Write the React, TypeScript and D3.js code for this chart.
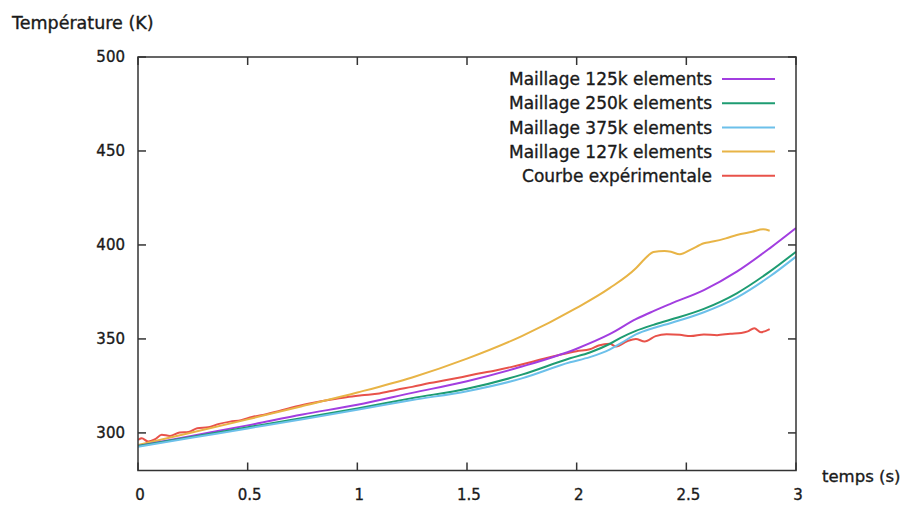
import React from "react";
import * as d3 from "d3";

const xTicks = [0, 0.5, 1, 1.5, 2, 2.5, 3];
const yTicks = [300, 350, 400, 450, 500];

const seriesNames = [
  "Maillage 125k elements",
  "Maillage 250k elements",
  "Maillage 375k elements",
  "Maillage 127k elements",
  "Courbe expérimentale",
];
const seriesColors = ["#a23ee0", "#1e9c72", "#6cc0ea", "#e8b446", "#e8524a"];

const mesh125k: [number, number][] = [
  [0, 293], [0.25, 298.5], [0.5, 304], [0.75, 309.8], [1.0, 315], [1.25, 321.3], [1.5, 327.5],
  [1.75, 335.3], [2.0, 344.8], [2.15, 352.5], [2.27, 360.5], [2.35, 364.8],
  [2.43, 368.8], [2.58, 376], [2.73, 385.8], [2.88, 398.2], [3.0, 409],
];
const mesh250k: [number, number][] = [
  [0, 293], [0.25, 298], [0.5, 303], [0.75, 308], [1.0, 313], [1.25, 318.5], [1.5, 323.5],
  [1.75, 331], [1.97, 339.7], [2.06, 342.8], [2.15, 347.3], [2.2, 350.6], [2.27, 354.3],
  [2.35, 357.5], [2.43, 360.3], [2.58, 366], [2.73, 374.3], [2.88, 385.8], [3.0, 396.4],
];
const mesh375k: [number, number][] = [
  [0, 292.6], [0.25, 297.5], [0.5, 302.4], [0.75, 307.3], [1.0, 312.3], [1.25, 317.5], [1.5, 322.2],
  [1.75, 329], [1.97, 337.6], [2.06, 340.3], [2.15, 344.3], [2.2, 347.6],
  [2.27, 352.4], [2.35, 355.8], [2.43, 358.5], [2.58, 364.2], [2.73, 372], [2.88, 383.2], [3.0, 393.8],
];
const mesh127k: [number, number][] = [
  [0, 293.5], [0.25, 300.3], [0.5, 307.2], [0.75, 314.3], [1.0, 321.5], [1.25, 329.5], [1.5, 339.5],
  [1.75, 351.5], [2.0, 366.5], [2.15, 377], [2.27, 387.6], [2.31, 392.5], [2.35, 396.3],
  [2.4, 396.8], [2.43, 396.4], [2.47, 395], [2.52, 397.5], [2.58, 400.9], [2.62, 401.8],
  [2.68, 403.5], [2.73, 405.3], [2.8, 407], [2.85, 408.3], [2.88, 407.6],
];
const experimental: [number, number][] = [
  [0, 296.3], [0.017, 297.2], [0.046, 295.4], [0.078, 296.7], [0.108, 299], [0.146, 298.4],
  [0.19, 300.2], [0.23, 300.5], [0.27, 302.5], [0.32, 303], [0.37, 304.8], [0.42, 306],
  [0.47, 306.8], [0.52, 308.5], [0.57, 309.6], [0.64, 311.5], [0.72, 314], [0.8, 316],
  [0.875, 317.6], [0.95, 319], [1.02, 320], [1.1, 321], [1.18, 323], [1.25, 324.5],
  [1.33, 326.5], [1.4, 328], [1.48, 329.8], [1.56, 331.7], [1.63, 333.2], [1.7, 335],
  [1.78, 337.3], [1.85, 339.5], [1.92, 341.5], [2.0, 343.5], [2.06, 344.5], [2.1, 346.5],
  [2.15, 347.5], [2.18, 346], [2.23, 348.8], [2.27, 350], [2.31, 348.6], [2.36, 351.5],
  [2.41, 352.5], [2.47, 352.2], [2.52, 351.5], [2.58, 352.4], [2.64, 352], [2.7, 352.8],
  [2.75, 353.2], [2.78, 354], [2.81, 355.7], [2.84, 353.6], [2.88, 355.2],
];

const allSeries = [mesh125k, mesh250k, mesh375k, mesh127k, experimental];

export default function App() {
  const W = 907, H = 506;
  const left = 138, right = 796, top = 57, bottom = 470.5;
  const x = d3.scaleLinear().domain([0, 3]).range([left, right]);
  const y = d3.scaleLinear().domain([280, 500]).range([bottom, top]);
  const line = d3
    .line<[number, number]>()
    .x((d) => x(d[0]))
    .y((d) => y(d[1]))
    .curve(d3.curveMonotoneX);
  const font = "'DejaVu Sans', 'Open Sans', sans-serif";
  const textFill = "#1a1a1a";
  const axisColor = "#333";
  const tl = 8;
  const drawOrder = [4, 3, 0, 1, 2];
  const tStroke = { stroke: "#1a1a1a", strokeWidth: 0.35 };

  return (
    <svg width={W} height={H} style={{ position: "absolute", left: 0, top: 0 }} fontFamily={font}>
      <rect x={0} y={0} width={W} height={H} fill="#fff" />
      <defs>
        <clipPath id="plotclip">
          <rect x={left} y={top} width={right - left} height={bottom - top} />
        </clipPath>
      </defs>
      <g clipPath="url(#plotclip)">
        {drawOrder.map((i) => (
          <path
            key={i}
            d={line(allSeries[i]) || ""}
            fill="none"
            stroke={seriesColors[i]}
            strokeWidth={2}
            strokeLinejoin="round"
          />
        ))}
      </g>
      <rect x={left} y={top} width={right - left} height={bottom - top} fill="none" stroke={axisColor} strokeWidth={1.5} />
      {yTicks.map((v) => (
        <g key={"y" + v}>
          <line x1={left} x2={left + tl} y1={y(v)} y2={y(v)} stroke={axisColor} strokeWidth={1.5} />
          <line x1={right} x2={right - tl} y1={y(v)} y2={y(v)} stroke={axisColor} strokeWidth={1.5} />
          <text x={125} y={y(v)} dy="0.36em" textAnchor="end" fontSize={15} fill={textFill} {...tStroke}>
            {v}
          </text>
        </g>
      ))}
      {xTicks.map((v) => (
        <g key={"x" + v}>
          <line x1={x(v)} x2={x(v)} y1={bottom} y2={bottom - tl} stroke={axisColor} strokeWidth={1.5} />
          <line x1={x(v)} x2={x(v)} y1={top} y2={top + tl} stroke={axisColor} strokeWidth={1.5} />
          <text x={x(v) + 2} y={500} textAnchor="middle" fontSize={15} fill={textFill} {...tStroke}>
            {v}
          </text>
        </g>
      ))}
      <text x={12} y={29} fontSize={17.5} fill={textFill} {...tStroke}>
        Température (K)
      </text>
      <text x={822} y={482} fontSize={16.5} fill={textFill} {...tStroke}>
        temps (s)
      </text>
      {seriesNames.map((name, i) => {
        const ly = 79 + i * 24.2;
        return (
          <g key={name}>
            <text x={712} y={ly} dy="0.36em" textAnchor="end" fontSize={17} fill={textFill} {...tStroke}>
              {name}
            </text>
            <line x1={722} x2={775} y1={ly} y2={ly} stroke={seriesColors[i]} strokeWidth={2} />
          </g>
        );
      })}
    </svg>
  );
}
